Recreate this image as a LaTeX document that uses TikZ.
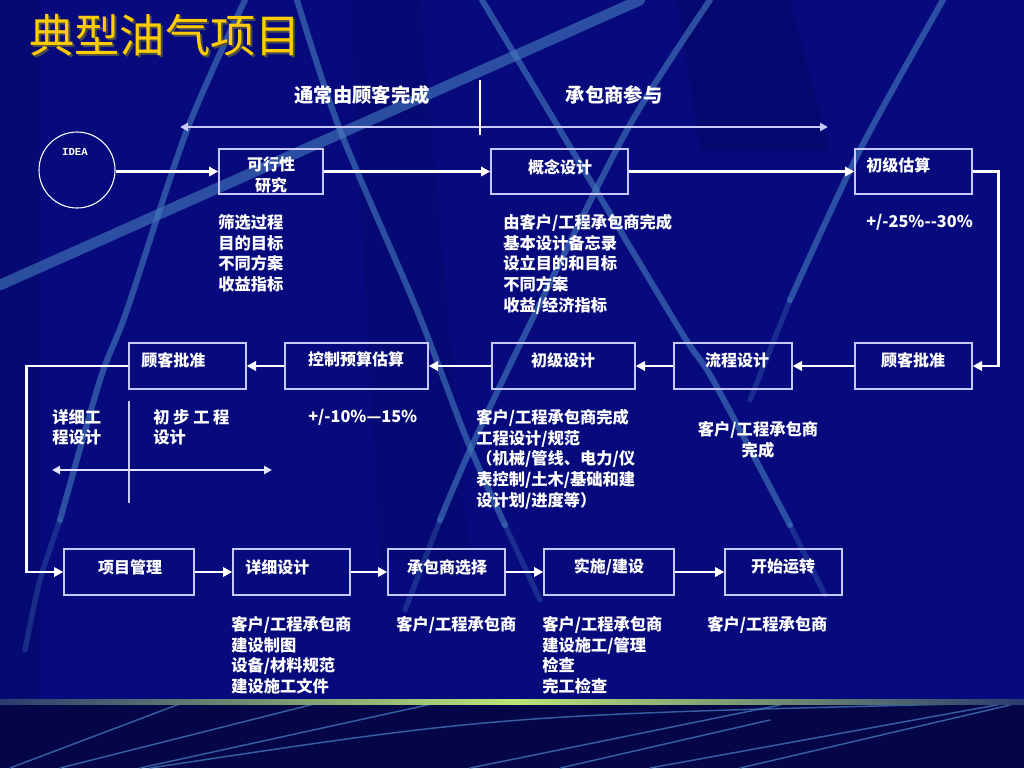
\documentclass[tikz,border=0pt]{standalone}
\usepackage{fontspec}
\newfontfamily\cjk{Noto Sans CJK SC}
\newfontfamily\monof{Liberation Mono}
\usetikzlibrary{arrows.meta,calc,fit}
\definecolor{bgc}{RGB}{6,10,124}
\definecolor{bgdark}{RGB}{4,6,72}
\definecolor{streakc}{RGB}{70,125,190}
\definecolor{boxc}{RGB}{200,200,250}
\definecolor{titlec}{RGB}{255,204,0}
\definecolor{limec}{RGB}{185,230,120}
\definecolor{lineend}{RGB}{40,60,110}
\tikzset{
  box/.style={draw=boxc, line width=1pt, inner sep=0pt, rectangle},
  btxt/.style={text=white, font=\cjk\bfseries\fontsize{12}{15.5}\selectfont, inner sep=0pt, align=center},
  body/.style={text=white, font=\cjk\bfseries\fontsize{12.2}{15.5}\selectfont, inner sep=0pt, align=left, anchor=north west},
  arr/.style={draw=white, line width=2.2pt, -{Triangle[length=7pt,width=7pt]}},
  darr/.style={draw=boxc, line width=1.5pt, {Triangle[length=6pt,width=6pt]}-{Triangle[length=6pt,width=6pt]}},
  streak/.style={draw=streakc, line width=4.5pt, line cap=round, opacity=0.6},
  tail/.style={draw=streakc, line width=4pt, line cap=round, opacity=0.3},
  thinstreak/.style={draw=streakc, line width=1.1pt, line cap=round, opacity=0.75},
}
\begin{document}
\begin{tikzpicture}[x=0.75pt,y=-0.75pt]
\useasboundingbox (0,0) rectangle (1024,768);
% background
\fill[bgc] (0,0) rectangle (1024,768);
\fill[black, opacity=0.10] (677,0) -- (790,0) -- (830,150) -- (700,150) -- cycle;
\fill[black, opacity=0.08] (0,0) -- (40,0) -- (40,768) -- (0,768) -- cycle;
\fill[black, opacity=0.07] (350,0) -- (420,0) -- (470,560) -- (380,560) -- cycle;
\draw[streak] plot[smooth] coordinates {(245,0) (187,130) (127,310) (100,380) (60,520)};
\draw[tail] plot[smooth] coordinates {(60,520) (40,580) (25,650)};
\draw[streak] plot[smooth] coordinates {(297,0) (340,130) (417,310) (467,440) (505,525)};
\draw[tail] (505,525) -- (540,600);
\draw[streak, line width=8pt] (0,285) -- (640,0);
\draw[streak] plot[smooth] coordinates {(482,0) (560,130) (680,330) (713,380) (790,525)};
\draw[tail] (790,525) -- (825,595);
\draw[streak] plot[smooth] coordinates {(710,0) (627,130) (527,330) (470,450) (440,520)};
\draw[tail] (440,520) -- (405,610);
\draw[streak] plot[smooth] coordinates {(943,0) (860,150) (790,300)};
\draw[tail] (790,300) -- (750,400);
% bottom band
\fill[bgdark] (0,703) rectangle (1024,768);
\draw[thinstreak] (10,768) -- (190,700);
\draw[thinstreak] (60,768) -- (330,700);
\draw[thinstreak] (140,768) -- (450,700);
\draw[thinstreak] (150,768) .. controls (500,715) .. (1000,703);
\draw[thinstreak] (470,768) -- (780,705);
\draw[thinstreak] (560,768) -- (770,720);
\draw[thinstreak] (650,768) -- (1024,700);
\draw[thinstreak] (740,768) -- (1010,705);
\shade[left color=lineend, right color=lineend, middle color=limec] (0,699.5) rectangle (1024,704);
% title
\node[anchor=west, text=black!70, font=\cjk\fontsize{34}{40}\selectfont, inner sep=0pt] at (31,37) {典型油气项目};
\node[anchor=west, text=titlec, font=\cjk\fontsize{34}{40}\selectfont, inner sep=0pt] (title) at (29,35) {典型油气项目};
% top labels
\node[text=white, font=\cjk\bfseries\fontsize{14.5}{17}\selectfont, inner sep=0pt] (lab1) at (362,95) {通常由顾客完成};
\node[text=white, font=\cjk\bfseries\fontsize{14.5}{17}\selectfont, inner sep=0pt] (lab2) at (614,95) {承包商参与};
\coordinate (ta1) at (180,127); \coordinate (ta2) at (828,127);
\draw[darr] (ta1) -- (ta2);
\coordinate (dv1) at (480,80); \coordinate (dv2) at (480,135);
\draw[white, line width=2pt] (dv1) -- (dv2);
% idea
\node[circle, draw=white, line width=0.8pt, minimum size=57pt, inner sep=0pt] (idea) at (77,170) {};
\node[text=white, font=\monof\bfseries\fontsize{8}{9}\selectfont, inner sep=0pt] (ideat) at (75,152) {IDEA};
% row 1 boxes
\node[box, fit={(219,149) (323,194)}] (kx) {};
\node[box, fit={(491,149) (628,194)}] (gn) {};
\node[box, fit={(855,149) (972,194)}] (gs) {};
\node[btxt] at (271,175) {可行性\\研究};
\node[btxt] at (560,167) {概念设计};
\node[btxt, anchor=west] at (866,165) {初级估算};
% row 2 boxes
\node[box, fit={(129,343) (246,389)}] (kpL) {};
\node[box, fit={(285,343) (428,389)}] (kz) {};
\node[box, fit={(492,343) (635,389)}] (cs) {};
\node[box, fit={(674,343) (792,389)}] (lc) {};
\node[box, fit={(855,343) (972,389)}] (kpR) {};
\node[btxt, anchor=west] at (141,360) {顾客批准};
\node[btxt] at (356,359) {控制预算估算};
\node[btxt] at (563,360) {初级设计};
\node[btxt] at (737,360) {流程设计};
\node[btxt] at (913,360) {顾客批准};
% row 3 boxes
\node[box, fit={(64,549) (194,595)}] (pm) {};
\node[box, fit={(233,549) (350,595)}] (xs) {};
\node[box, fit={(388,549) (505,595)}] (cb) {};
\node[box, fit={(544,549) (674,595)}] (ss) {};
\node[box, fit={(725,549) (842,595)}] (ks) {};
\node[btxt] at (130,567) {项目管理};
\node[btxt, anchor=west] at (245,567) {详细设计};
\node[btxt] at (447,567) {承包商选择};
\node[btxt] at (609,567) {实施/建设};
\node[btxt] at (783,567) {开始运转};
% connectors
\draw[arr] (idea.east |- kx.west) -- (kx.west);
\draw[arr] (kx.east) -- (gn.west);
\draw[arr] (gn.east) -- (gs.west);
\draw[arr] (gs.east) -- ++(26,0) |- (kpR.east);
\draw[arr] (kpR.west) -- (lc.east);
\draw[arr] (lc.west) -- (cs.east);
\draw[arr] (cs.west) -- (kz.east);
\draw[arr] (kz.west) -- (kpL.east);
\draw[arr] (kpL.west) -- ++(-102,0) |- (pm.west);
\draw[arr] (pm.east) -- (xs.west);
\draw[arr] (xs.east) -- (cb.west);
\draw[arr] (cb.east) -- (ss.west);
\draw[arr] (ss.east) -- (ks.west);
% row 1 texts
\node[body] at (218,214) {筛选过程\\目的目标\\不同方案\\收益指标};
\node[body] at (503,214) {由客户/工程承包商完成\\基本设计备忘录\\设立目的和目标\\不同方案\\收益/经济指标};
\node[body, anchor=west] at (866,222) {+/-25\%{-}{-}30\%};
% row 2 texts
\node[body] at (52,409) {详细工\\程设计};
\node[body] at (153,409) {初 步 工 程\\设计};
\coordinate (bv1) at (129,401); \coordinate (bv2) at (129,503);
\draw[boxc, line width=1pt] (bv1) -- (bv2);
\coordinate (ba1) at (52,470); \coordinate (ba2) at (272,470);
\draw[darr, draw=white!90!blue] (ba1) -- (ba2);
\node[body, anchor=west] at (308,417) {+/-10\%—15\%};
\node[body] at (476,409) {客户/工程承包商完成\\工程设计/规范\\（机械/管线、电力/仪\\表控制/土木/基础和建\\设计划/进度等）};
\node[body, align=center, anchor=north] at (758,421) {客户/工程承包商\\完成};
% row 3 texts
\node[body] at (231,616) {客户/工程承包商\\建设制图\\设备/材料规范\\建设施工文件};
\node[body] at (396,616) {客户/工程承包商};
\node[body] at (542,616) {客户/工程承包商\\建设施工/管理\\检查\\完工检查};
\node[body] at (707,616) {客户/工程承包商};
\end{tikzpicture}
\end{document}
